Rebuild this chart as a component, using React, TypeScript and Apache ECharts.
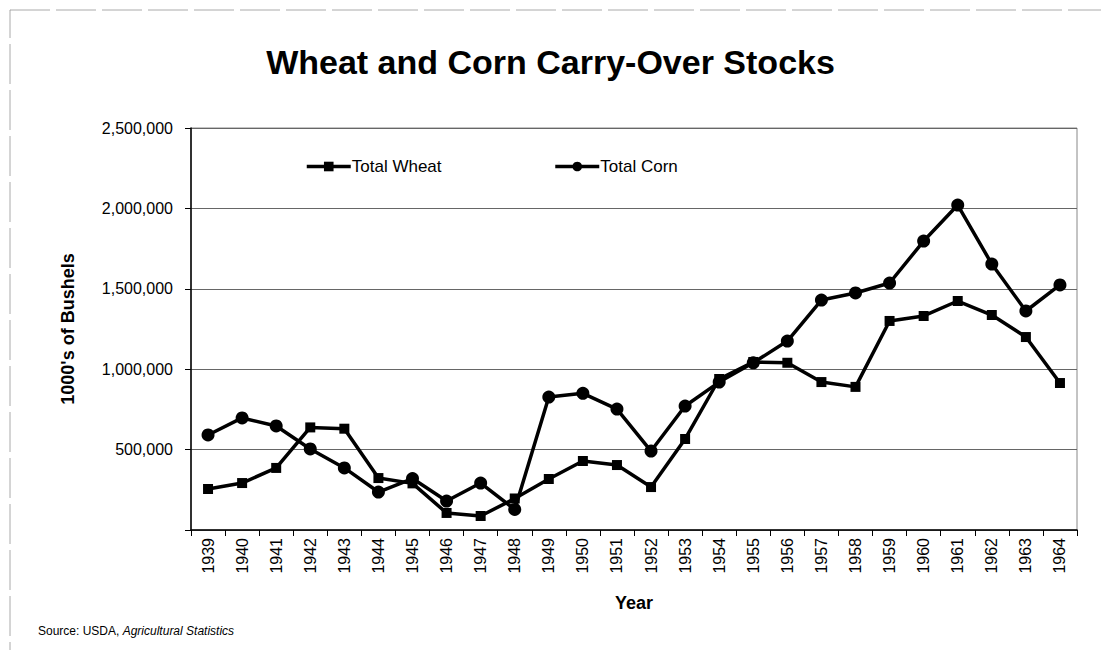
import React, { useEffect, useRef } from "react";
import * as echarts from "echarts";

const years = ["1939","1940","1941","1942","1943","1944","1945","1946","1947","1948","1949","1950","1951","1952","1953","1954","1955","1956","1957","1958","1959","1960","1961","1962","1963","1964"];
const totalWheat = [255000,292000,386000,638000,630000,323000,290000,106000,87000,196000,317000,429000,404000,267000,566000,939000,1045000,1040000,920000,890000,1300000,1331000,1424000,1337000,1200000,914000];
const totalCorn = [591000,697000,647000,504000,386000,236000,320000,180000,292000,128000,827000,850000,752000,491000,771000,920000,1040000,1175000,1430000,1474000,1536000,1797000,2021000,1654000,1362000,1524000];
const yTicks = { min: 0, max: 2500000, interval: 500000 };

const FONT = "Liberation Sans, Arial, sans-serif";

export default function App() {
  const ref = useRef<HTMLDivElement>(null);
  useEffect(() => {
    if (!ref.current) return;
    const chart = echarts.init(ref.current, undefined, { renderer: "svg" });
    chart.setOption({
      animation: false,
      backgroundColor: "#ffffff",
      title: {
        text: "Wheat and Corn Carry-Over Stocks",
        left: "center",
        top: 40,
        textStyle: { fontFamily: FONT, fontSize: 34, fontWeight: "bold", color: "#000" },
      },
      legend: {
        left: 300,
        top: 153,
        itemGap: 112,
        itemWidth: 44,
        itemHeight: 12,
        lineStyle: { width: 3.5, color: "#000" },
        textStyle: { fontFamily: FONT, fontSize: 17, color: "#000", padding: [0, 0, 0, -4] },
        data: ["Total Wheat", "Total Corn"],
      },
      grid: { left: 191, right: 24, top: 128, bottom: 120, show: true, borderColor: "#888", borderWidth: 1 },
      xAxis: {
        type: "category",
        data: years,
        boundaryGap: true,
        name: "Year",
        nameLocation: "middle",
        nameGap: 64,
        nameTextStyle: { fontFamily: FONT, fontSize: 18, fontWeight: "bold", color: "#000" },
        axisLine: { lineStyle: { color: "#000", width: 1.5 } },
        axisTick: { show: true, alignWithLabel: false, length: 6, lineStyle: { color: "#000" } },
        axisLabel: { rotate: 90, fontFamily: FONT, fontSize: 16, color: "#000", margin: 8 },
        splitLine: { show: false },
      },
      yAxis: {
        type: "value",
        min: yTicks.min,
        max: yTicks.max,
        interval: yTicks.interval,
        name: "1000's of Bushels",
        nameLocation: "middle",
        nameGap: 114,
        nameTextStyle: { fontFamily: FONT, fontSize: 18, fontWeight: "bold", color: "#000" },
        axisLine: { show: true, lineStyle: { color: "#000", width: 1.5 } },
        axisTick: { show: true, length: 6, lineStyle: { color: "#000" } },
        axisLabel: {
          fontFamily: FONT,
          fontSize: 16,
          color: "#000",
          margin: 18,
          formatter: (v: number) => (v === 0 ? "" : v.toLocaleString("en-US")),
        },
        splitLine: { show: true, lineStyle: { color: "#666", width: 1 } },
      },
      series: [
        {
          name: "Total Wheat",
          type: "line",
          data: totalWheat,
          symbol: "rect",
          symbolSize: 10,
          lineStyle: { color: "#000", width: 3.5 },
          itemStyle: { color: "#000" },
        },
        {
          name: "Total Corn",
          type: "line",
          data: totalCorn,
          symbol: "circle",
          symbolSize: 13,
          lineStyle: { color: "#000", width: 3.5 },
          itemStyle: { color: "#000" },
        },
      ],
      graphic: [
        {
          type: "rect",
          shape: { x: 10, y: 10, width: 1200, height: 700 },
          style: { fill: "none", stroke: "#aaa", lineWidth: 1, lineDash: [40, 6] },
          silent: true,
        },
        {
          type: "text",
          left: 38,
          top: 625,
          style: {
            rich: {
              n: { fontFamily: FONT, fontSize: 12, fill: "#000" },
              i: { fontFamily: FONT, fontSize: 12, fontStyle: "italic", fill: "#000" },
            },
            text: "{n|Source: USDA, }{i|Agricultural Statistics}",
          },
        },
      ],
    });
    return () => chart.dispose();
  }, []);
  return <div ref={ref} style={{ width: 1101, height: 650, position: "absolute", left: 0, top: 0 }} />;
}
